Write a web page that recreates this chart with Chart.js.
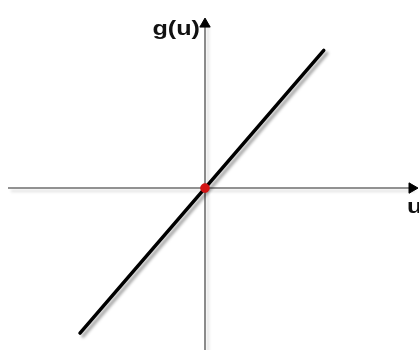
<!DOCTYPE html>
<html>
<head>
<meta charset="utf-8">
<style>
  html, body { margin: 0; padding: 0; background: #fff; }
  canvas { display: block; }
</style>
</head>
<body>
<canvas id="grafica" width="419" height="350"></canvas>
<script src="https://cdn.jsdelivr.net/npm/chart.js"></script>
<script>
    // g(u) = u, dibujada entre estos extremos
    const lineaU = [-1.0, 0.95];
    const lineaG = [-1.0, 0.95];

    // ejes: horizontal (u) y vertical (g)
    const ejeU = [-1.576, 1.66];
    const ejeG = [-1.2, 1.14];
    const flechaU = 1.656;
    const flechaG = 1.131;

    const etiquetaX = 'u';
    const etiquetaY = 'g(u)';

    const sombra = {
        id: 'sombra',
        beforeDatasetDraw(chart, args) {
            const ds = chart.data.datasets[args.index];
            if (!ds.sombra) return;
            const ctx = chart.ctx;
            ctx.save();
            ctx.shadowColor = ds.sombra;
            ctx.shadowOffsetX = 3;
            ctx.shadowOffsetY = 3;
            ctx.shadowBlur = 3;
        },
        afterDatasetDraw(chart, args) {
            const ds = chart.data.datasets[args.index];
            if (!ds.sombra) return;
            chart.ctx.restore();
        }
    };

    // texto algo ensanchado
    function texto(ctx, str, x, y, align) {
        const ancho = 1.2;
        ctx.save();
        ctx.translate(x, y);
        ctx.scale(ancho, 1);
        ctx.textAlign = align;
        ctx.fillText(str, 0, 0);
        ctx.restore();
    }

    const etiquetas = {
        id: 'etiquetas',
        afterDraw(chart) {
            const ctx = chart.ctx;
            const x = chart.scales.x, y = chart.scales.y;
            ctx.save();
            ctx.fillStyle = '#111';
            ctx.font = 'bold 21px "Liberation Sans", Arial, sans-serif';
            ctx.textBaseline = 'alphabetic';
            texto(ctx, etiquetaY, x.getPixelForValue(0) - 5, y.getPixelForValue(flechaG) + 11, 'right');
            texto(ctx, etiquetaX, x.getPixelForValue(flechaU) - 5, y.getPixelForValue(0) + 25, 'left');
            ctx.restore();
        }
    };

    const ctx = document.getElementById('grafica');
    new Chart(ctx, {
        type: 'scatter',
        data: {
            datasets: [
                {
                    data: ejeU.map(u => ({x: u, y: 0})),
                    showLine: true,
                    borderColor: '#6e6e6e',
                    borderWidth: 1.6,
                    pointRadius: 0,
                    sombra: 'rgba(0,0,0,0.18)',
                    order: 5,
                    clip: false
                },
                {
                    data: ejeG.map(g => ({x: 0, y: g})),
                    showLine: true,
                    borderColor: '#6e6e6e',
                    borderWidth: 1.6,
                    pointRadius: 0,
                    sombra: 'rgba(0,0,0,0.18)',
                    order: 5,
                    clip: false
                },
                {
                    data: [{x: flechaU, y: 0}],
                    pointStyle: 'triangle',
                    rotation: 90,
                    pointRadius: 6,
                    backgroundColor: '#000',
                    borderColor: '#000',
                    borderWidth: 1,
                    order: 4,
                    clip: false
                },
                {
                    data: [{x: 0, y: flechaG}],
                    pointStyle: 'triangle',
                    rotation: 0,
                    pointRadius: 6,
                    backgroundColor: '#000',
                    borderColor: '#000',
                    borderWidth: 1,
                    order: 4,
                    clip: false
                },
                {
                    data: lineaU.map((u, i) => ({x: u, y: lineaG[i]})),
                    showLine: true,
                    borderColor: '#000',
                    borderWidth: 3.5,
                    borderCapStyle: 'round',
                    pointRadius: 0,
                    sombra: 'rgba(0,0,0,0.35)',
                    order: 2,
                    clip: false
                },
                {
                    data: [{x: 0, y: 0}],
                    pointRadius: 4.5,
                    backgroundColor: '#d41414',
                    borderColor: 'rgba(200,20,20,0.6)',
                    borderWidth: 1,
                    order: 0,
                    clip: false
                }
            ]
        },
        options: {
            responsive: false,
            animation: false,
            layout: { padding: 0, autoPadding: false },
            plugins: {
                legend: { display: false },
                tooltip: { enabled: false }
            },
            scales: {
                x: { type: 'linear', display: false, min: -1.64, max: 1.712 },
                y: { type: 'linear', display: false, min: -1.117, max: 1.297 }
            }
        },
        plugins: [sombra, etiquetas]
    });
</script>
</body>
</html>
